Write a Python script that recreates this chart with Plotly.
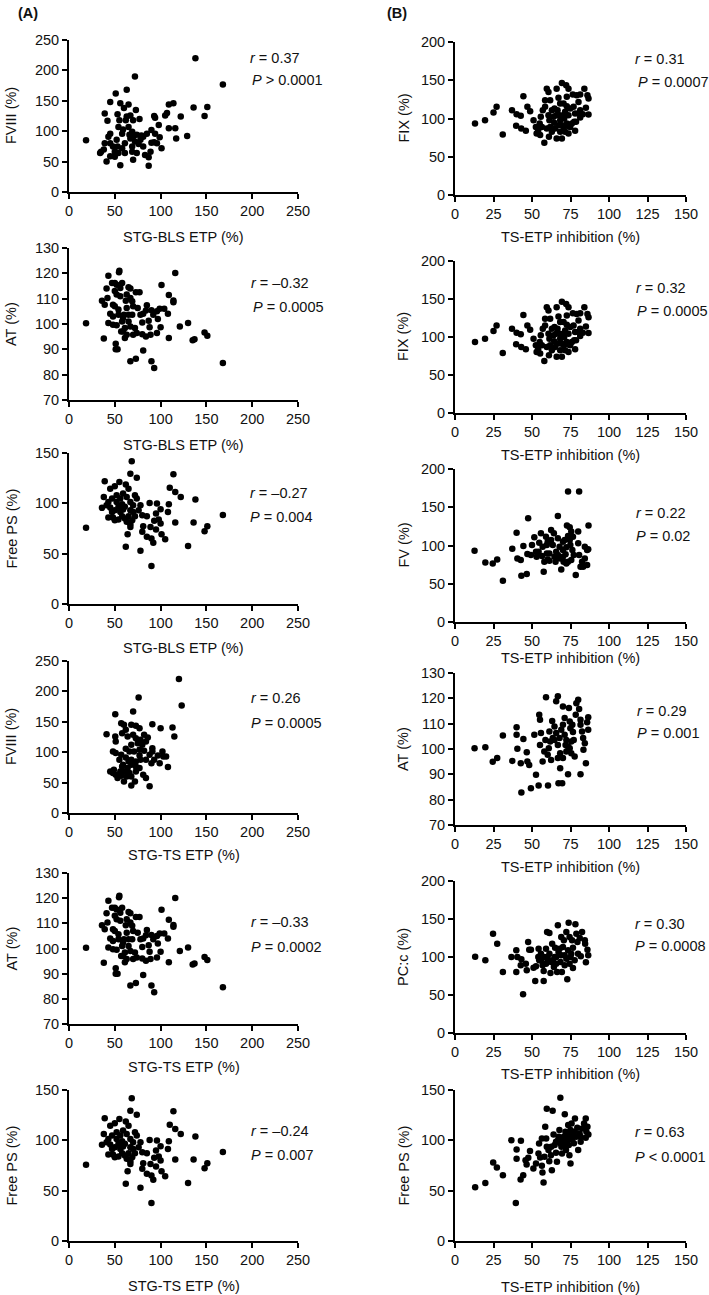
import plotly.graph_objects as go

# ---------------- DATA ----------------
# (A) STG-BLS ETP vs FVIII
bls_x_fviii = [18.6,72,138,168,136,151,148,129,117,116,109,122,114,109,107,105,93,94,98,90,
               94,99,101,93,96,90,87,87,83,81,85,79,77,73,67,63,65,63,51,45,
               39,42,53,55,56,60,54,45,43,35,38,41,48,50,56,58,61,65,67,69,
               70,74,78,72,69,52,58,59,69,74,81,45,39,34,54,50,45,66,53,61,
               76,89,62,70,70]
fviii_bls = [85,190,220,177,139,140,125,92,88,105,105,124,146,144,130,126,125,122,110,102,
             96,90,72,82,80,81,57,43,61,75,96,93,120,135,126,168,144,124,162,148,
             129,117,128,118,146,138,107,96,91,66,70,50,75,66,44,72,64,107,88,75,
             53,64,86,83,66,86,96,103,99,94,91,80,80,64,64,58,59,94,75,80,
             79,66,118,118,91]

# (A) ETP vs AT (same set shown in STG-BLS and STG-TS panels)
etp_x_at = [18.6,116,55,54.6,43,101,109,114,114,121,130,108,104,99,96,90,92,97,100,96,
            109,137,135,148,151,168,93,90,81,73,67,51,51,53,38,36,39,42,41,47,
            50,52,58,56,50,52,56,48,50,45,48,43,48,52,57,59,61,63,61,58,
            60,63,62,63,65,67,67,69,70,69,65,67,70,74,75,77,73,78,80,81,
            84,85,88,87,89,84,80,72,65,59,54,54]
at_etp = [100.3,120.1,121,120.4,119,115.4,111.4,109.3,108.6,99,100.4,104,106,106,105,105.4,103.7,102,98.7,96.4,
          94.5,94,93.6,96.6,95.4,84.6,82.6,85.3,89.5,86.3,85.3,92.2,90,90,94.3,109.2,107.6,110.3,114,116.2,
          116.2,115.5,116.2,114.2,113,111.6,111,107.6,107,104,103,100.4,99.7,99.5,97,97,98.4,95.8,94.5,101,
          103.7,106.3,109.2,111.6,114.5,114,110.3,109,107,103.7,101,99,95.8,96.4,106.3,112.5,112.5,103.7,100.6,104,
          105.3,107.4,98.7,101.3,95.8,95.1,96,98.4,103.7,102.4,103.7,105.7]

# (A) ETP vs Free PS (same set shown in STG-BLS and STG-TS panels)
etp_x_ps = [18.6,68.5,114,67,74,39,55,62,65,45,50,110,116,122,138,36,38,43,47,52,
            56,59,63,67,72,74,70,61,58,54,50,47,43,48,50,54,58,61,63,67,
            67,64,62,78,90,81,80,85,90,92,89,93,98,100,95,101,105,88,96,100,
            95,109,108,116,136,130,148,151,168,78,76,80,85,72,70,67,59,56,41,45,
            52,65,69]
ps_etp = [75.7,141.7,128.8,129.5,125.5,122,121.2,118.6,114.6,114.6,117,115.6,111.3,106.4,103.7,95.5,106.4,101.4,104.7,108,
          104.7,109.7,106.4,101.4,108,104.7,98,96.5,99,96.5,93.2,91.5,86,86,83.2,84,87.2,85,81.6,79.3,
          76.6,69.4,56.8,52.9,37.7,77.3,71.7,66.7,65,60.8,76.6,82.6,84,80,74,69.4,64.4,100.4,99.8,94.2,
          89.9,99,91.5,81,81,57.5,72.3,77.3,88.5,98,93.2,88.2,87.2,87.2,91.5,93.2,93.8,91.5,98,95.8,
          101.4,87.2,83.2]

# (A) STG-TS ETP vs FVIII
ts_x_fviii = [120,123,76,70,50.5,113,115,100,91,41,50.5,51,57,60,68,73,77,62,58,64,
              70,73,78,82,86,84,80,75,68,62,66,71,77,82,88,91,93,97,102,103,
              106,108,90,84,78,73,68,62,57,51,48,55,59,64,68,73,77,81,84,88,
              68,72,60,51,48,45,49,56,61,66,73,68,63,57,53,58,65,77,99,91]
fviii_ts = [220.5,176.7,190,167,162.5,140.6,125.8,139.5,146,129.6,125.8,117.6,147.7,145,145,143.3,139.5,136.8,131.3,125.8,
            128.5,123,120.4,128.5,124.2,117.6,112.1,114.9,112.1,105.6,101.2,101.2,104,102.3,95.7,101.2,87.5,94.6,101.2,93,
            93,75.5,82,87.5,87.5,84.8,87.5,91.4,95.7,98.5,101.2,87.5,79.3,73.9,79.3,76.6,73.9,62.9,57.4,43.8,
            45.4,52,52,62.9,65.6,68.4,71.1,68.4,68.4,65.6,68.4,60.2,60.2,61.3,57.4,76.6,84.8,94.6,82,106.7]

# (B) TS-ETP inhibition vs FIX
inh_x_fix = [13,19.5,25,27,31,37,40,42.7,39.7,43,46,44.4,47,48.8,51,52.5,53,54,55,55.7,
             57,58.5,58,59.6,60.7,61.8,60.7,61.3,61.8,62.9,61,64,64.4,65,66,67.2,68.3,66.6,68,68.3,
             67.2,68.3,66,69.4,69.4,72.2,73.7,72.6,70.5,72.6,74.8,71.5,73.7,70.9,72.6,70.5,73.7,71.5,76.5,79,
             81.3,80.2,77,78,80.2,77.4,75.9,78.6,84,86,86.7,85,83,86.7,81.3,74.8,64.6,62.9,58.5,56.4,
             55.3,59.6,69.4,70.5,65.7,73.7,78,81.3]
fix_inh = [93.5,97.8,107.8,115.2,79,110.9,105.7,103.5,90.4,87,84,129,115.2,109.6,97.8,89,80.4,84,93.5,102.2,
           110.9,115.2,68.3,139,134.8,124,104.3,97.8,89,82.6,76,102.2,94.3,87,139,127,119.6,110.9,104.3,97.8,
           91.3,82.6,73.9,73.9,146.5,143.5,139,128.3,119.6,116,113,108.7,104.3,100,93.5,89,90,82.6,131.3,130.4,
           131.3,121.7,115.2,106.5,106.5,95.7,93.5,95.7,139,130.4,126,113.9,105.7,105.2,101.3,89,113,110.9,124,89,
           78.3,87,91.3,104.3,104.3,80.4,84,110.9]

# (B) TS-ETP inhibition vs FV
inh_x_fv = [12.7,19.7,24.5,27.4,31.1,37.2,40,40.5,42.7,43.1,44.4,46.6,47.5,47,49.3,51.5,53,54.7,54.3,55.8,
            56.5,57.6,58,59.1,59.6,60.2,61.3,62.4,62.4,63.5,64.6,65.7,65.3,66.8,66.8,67.9,68.3,69,70.1,70.1,
            70.5,71.2,72.3,71.8,73.4,80.6,72.7,74.5,75.5,74.5,76.6,74.9,76.2,77.1,75.5,73.4,78.4,80,80.6,81.5,
            83.2,84.3,85.8,84.3,85.8,86.7,86.5,56.9,64.2,61.3,66.8,72.3,82.5,80,70.1,52.6,50,59.6,60.2,73.4]
fv_inh = [93.2,77.9,76.6,81.8,53.8,95.8,116.8,83.1,81,60.4,99.3,62.6,135.7,88.8,87.5,110.7,85.3,103.7,91.9,116,
          86.2,65.6,78.8,111.6,100.7,81.8,89.7,120.4,107.2,100.7,85.3,91.9,78.8,138.7,109.4,98.5,83.1,68.7,105,94.1,
          78.8,107.2,97.6,88.4,170.7,170.7,126,123.9,118.2,107.2,111.6,100.7,94.1,87.5,81,78.8,61.3,102.8,87.5,72.2,
          72.2,98.5,94.1,83.1,74.4,126,95,98.5,116,80.1,87.5,76.6,78.8,118.2,85.3,91.9,100.7,89.7,105,112.5]

# (B) TS-ETP inhibition vs AT
inh_x_at = [12.7,19.7,24.5,27.4,31.1,37.2,40,40,40.5,42.7,43.1,44.4,46.6,47,48.2,49.3,51.5,52.6,54.3,54.7,
            55.2,55.8,55.2,56.9,58,59.1,58.7,60.2,60.4,61.3,61.8,63.1,64.6,62.4,65.7,66.8,65.7,66.8,66.8,67.2,
            69.6,68.3,69,68.3,70.1,71.2,70.1,71.2,71.8,72.3,73.4,74,74.5,74.9,75.5,74.5,76.2,76.6,77.1,77.7,
            78.8,80,80.6,81.5,82.5,81.5,83.2,84.3,83.4,85,85.8,86.5,86.5,72.3,73.4,64.6,60.9,63.5,75.5,70.1,
            67.9,78.4,81.5]
at_inh = [100.3,100.7,95,96.4,105.3,95.3,108.6,105.6,100.1,94.4,82.8,103.9,98.7,95.1,93.7,84.5,105.6,89.8,85.6,113.5,
          111.5,106.3,101.6,95.1,99,120.4,103.6,97.7,85.6,106.9,103,111.1,108.9,95.7,118.8,120.8,106.3,101.6,96.4,86.5,
          86.5,92.4,107.6,98.3,116.8,112.2,109.6,105.6,101.6,99,90,116.2,110.9,108.2,103,100.3,109.6,106.7,103.6,97,
          118.1,119.4,115.8,109.6,106.9,90,104.3,102.3,99.7,94.4,110.6,112.5,107.6,103.6,101,103.6,100.3,104.3,98.3,96.4,
          104.3,113.5,111.5]

# (B) TS-ETP inhibition vs PC:c
inh_x_pc = [13.1,19.7,24.7,27.4,31.1,36.6,39.8,40.5,39.8,43.1,42.7,44.2,46,46.6,47.5,48.2,49.3,51,52.1,52.6,
            54.1,54.7,54.3,55.8,56.9,57.6,57.6,58,59.1,59.8,61.3,60.2,61.3,62,63.1,63.5,64.2,65,65.7,66.3,
            66.8,67.2,68.5,69,69.4,70.1,70.7,71.2,71.2,72.3,72.9,73.8,73.4,74.4,75.1,76,76.6,76.6,78.2,78.8,
            79.5,79.9,81,81.7,82.5,84.3,85,86,86.5,84.5,69,65.7,62.4,59.1,55.8,64.6,72.3,75.5,67.9,74.4,
            60.2,77.7]
pc_inh = [100.4,95.6,130.7,117.5,80.3,100,108.8,100,80.3,96.9,89,50.9,91.2,82.5,119.7,109.6,109.6,86,68.4,87.7,
          100,95.6,111,104.4,89,68.4,81.6,100,111,132.9,131.6,95.6,104.4,78.9,117.5,95.6,86.8,112.3,100,80.3,
          141.7,106.6,93.4,126.3,80.3,113.2,122,102.2,89,132.9,70.6,145.2,108.8,126.3,100,122,85.5,112.3,143,130.7,
          119.7,104.4,124.9,100.9,132.9,121.9,93,109.6,102.2,117.5,102.2,91.2,93.4,91.2,95.6,100,97.8,104.4,111,91.2,
          100,95.6]

# (B) TS-ETP inhibition vs Free PS
inh_x_ps = [13.1,19.7,24.8,27.2,31.1,36.6,40,40,39.5,42.8,42.6,44.3,45.8,46.5,47.6,48.7,50.9,52.6,54.2,54.6,
            55.3,56.4,56.8,57.5,58.1,58.6,59.2,59.6,60.7,61.2,62.3,62.9,63.4,64,64.7,65.6,66.2,66.9,68.4,67.8,
            69.1,69.5,70.6,71.3,71.7,72.1,72.8,73.5,73.9,74.3,75,75.7,76.1,75,77.2,77.9,78.7,79.4,80,80.9,
            81.6,82.7,83.8,84.9,85.3,86,86.6,84.9,71.7,70.6,67.3,65.6,62.5,71.7,76.1,68.4,73.9,72.8,69.5,77.4,
            81.6,56.4,59.6]
ps_inh = [53.4,57.7,78,73,65.4,100.2,90.9,81.6,37.8,99.6,61,65.4,80.3,76,82.6,89.3,72,77,87,96.9,
          83,74.7,68,58,83.6,113.5,101.9,131.4,90.3,79.3,85.3,70.4,129.4,105.9,95.3,87.6,78.7,100.2,142.4,110.2,
          93.6,87,103.5,125.8,98.6,90.3,106.9,115.2,95.3,85.3,110.2,116.8,101.2,77,97,121.8,103.5,112.5,90.3,106.9,
          98.6,111.8,116.8,121.8,108.5,113.5,105.9,102.6,108.5,100.2,103.5,98.6,93.6,95.3,105.2,97,101.9,100.2,100.2,108.5,
          103.5,101.9,93.6]

# tick labels
ticks_etp = [0, 50, 100, 150, 200, 250]
ticks_inh = [0, 25, 50, 75, 100, 125, 150]
ticks_250 = [0, 50, 100, 150, 200, 250]
ticks_200 = [0, 50, 100, 150, 200]
ticks_150 = [0, 50, 100, 150]
ticks_at = [70, 80, 90, 100, 110, 120, 130]

# ---------------- LAYOUT ----------------
W, H = 709, 1295
FONT = "Liberation Sans, Arial, sans-serif"
TXT = "#111111"
FS = 14.5

LEFT = (69, 298)
RIGHT = (455, 686)

panels = [
    (bls_x_fviii, fviii_bls, LEFT, 40, 192, ticks_etp, ticks_250, "FVIII (%)", "STG-BLS ETP (%)",
     "0.37", "<i>P</i> > 0.0001", (248, 58), (250, 80), 45),
    (etp_x_at, at_etp, LEFT, 248, 400, ticks_etp, ticks_at, "AT (%)", "STG-BLS ETP (%)",
     "–0.32", "<i>P</i> = 0.0005", (249, 283), (251, 307), 45),
    (etp_x_ps, ps_etp, LEFT, 453, 604, ticks_etp, ticks_150, "Free PS (%)", "STG-BLS ETP (%)",
     "–0.27", "<i>P</i> = 0.004", (248, 493), (248, 517), 44),
    (ts_x_fviii, fviii_ts, LEFT, 661, 813, ticks_etp, ticks_250, "FVIII (%)", "STG-TS ETP (%)",
     "0.26", "<i>P</i> = 0.0005", (249, 698), (249, 723), 42),
    (etp_x_at, at_etp, LEFT, 873, 1024, ticks_etp, ticks_at, "AT (%)", "STG-TS ETP (%)",
     "–0.33", "<i>P</i> = 0.0002", (249, 922), (249, 947), 43),
    (etp_x_ps, ps_etp, LEFT, 1090, 1241, ticks_etp, ticks_150, "Free PS (%)", "STG-TS ETP (%)",
     "–0.24", "<i>P</i> = 0.007", (249, 1131), (249, 1155), 45),
    (inh_x_fix, fix_inh, RIGHT, 42, 195, ticks_inh, ticks_200, "FIX (%)", "TS-ETP inhibition (%)",
     "0.31", "<i>P</i> = 0.0007", (633, 59), (636, 82), 42),
    (inh_x_fix, fix_inh, RIGHT, 261, 413, ticks_inh, ticks_200, "FIX (%)", "TS-ETP inhibition (%)",
     "0.32", "<i>P</i> = 0.0005", (634, 288), (635, 311), 42),
    (inh_x_fv, fv_inh, RIGHT, 469, 622, ticks_inh, ticks_200, "FV (%)", "TS-ETP inhibition (%)",
     "0.22", "<i>P</i> = 0.02", (634, 513), (634, 536), 36),
    (inh_x_at, at_inh, RIGHT, 673, 825, ticks_inh, ticks_at, "AT (%)", "TS-ETP inhibition (%)",
     "0.29", "<i>P</i> = 0.001", (635, 711), (635, 733), 42),
    (inh_x_pc, pc_inh, RIGHT, 881, 1033, ticks_inh, ticks_200, "PC:c (%)", "TS-ETP inhibition (%)",
     "0.30", "<i>P</i> = 0.0008", (633, 924), (633, 946), 41),
    (inh_x_ps, ps_inh, RIGHT, 1090, 1241, ticks_inh, ticks_150, "Free PS (%)", "TS-ETP inhibition (%)",
     "0.63", "<i>P</i> < 0.0001", (633, 1132), (633, 1157), 46),
]

fig = go.Figure()
annotations = []
layout = {}

for i, (xs, ys, col, top, bot, xt, yt, ylab, xlab, rtxt, ptxt, rpos, ppos, xoff) in enumerate(panels, start=1):
    xa = "x" if i == 1 else f"x{i}"
    ya = "y" if i == 1 else f"y{i}"
    fig.add_trace(go.Scatter(
        x=xs, y=ys, mode="markers", xaxis=xa, yaxis=ya,
        marker=dict(color="black", size=6.5, line=dict(width=0)),
        showlegend=False, hoverinfo="x+y"))
    axis_common = dict(showline=True, linecolor="black", linewidth=1.8,
                       ticks="outside", ticklen=5, tickwidth=1.8, tickcolor="black",
                       showgrid=False, zeroline=False, fixedrange=True, automargin=False,
                       tickfont=dict(family=FONT, size=FS, color=TXT))
    layout[f"xaxis{i}"] = dict(axis_common, domain=[col[0] / W, col[1] / W],
                               anchor=ya, range=[xt[0], xt[-1]], tickvals=xt)
    layout[f"yaxis{i}"] = dict(axis_common, domain=[1 - bot / H, 1 - top / H],
                               anchor=xa, range=[yt[0], yt[-1]], tickvals=yt)
    ytitle_x = 11 if col == LEFT else 403
    annotations.append(dict(text=ylab, x=ytitle_x / W, y=1 - (top + bot) / 2 / H,
                            xref="paper", yref="paper", showarrow=False, textangle=-90,
                            xanchor="center", yanchor="middle",
                            font=dict(family=FONT, size=FS, color=TXT)))
    annotations.append(dict(text=xlab, x=(col[0] + col[1]) / 2 / W, y=1 - (bot + xoff) / H,
                            xref="paper", yref="paper", showarrow=False,
                            xanchor="center", yanchor="middle",
                            font=dict(family=FONT, size=FS, color=TXT)))
    annotations.append(dict(text=f"<i>r</i> = {rtxt}", x=rpos[0] / W, y=1 - rpos[1] / H,
                            xref="paper", yref="paper", showarrow=False,
                            xanchor="left", yanchor="middle",
                            font=dict(family=FONT, size=FS, color=TXT)))
    annotations.append(dict(text=ptxt, x=ppos[0] / W, y=1 - ppos[1] / H,
                            xref="paper", yref="paper", showarrow=False,
                            xanchor="left", yanchor="middle",
                            font=dict(family=FONT, size=FS, color=TXT)))

annotations.append(dict(text="<b>(A)</b>", x=16 / W, y=1 - 13 / H, xref="paper", yref="paper",
                        showarrow=False, xanchor="left", yanchor="middle",
                        font=dict(family=FONT, size=FS, color=TXT)))
annotations.append(dict(text="<b>(B)</b>", x=385 / W, y=1 - 13 / H, xref="paper", yref="paper",
                        showarrow=False, xanchor="left", yanchor="middle",
                        font=dict(family=FONT, size=FS, color=TXT)))

fig.update_layout(
    width=W, height=H,
    margin=dict(l=0, r=0, t=0, b=0, pad=0),
    paper_bgcolor="white", plot_bgcolor="white",
    font=dict(family=FONT, size=FS, color=TXT),
    annotations=annotations,
    **layout,
)

fig.write_html(
    "out.html",
    config={"displayModeBar": False},
    post_script="document.body.style.margin='0';document.body.style.padding='0';"
                "document.documentElement.style.overflow='hidden';",
)
